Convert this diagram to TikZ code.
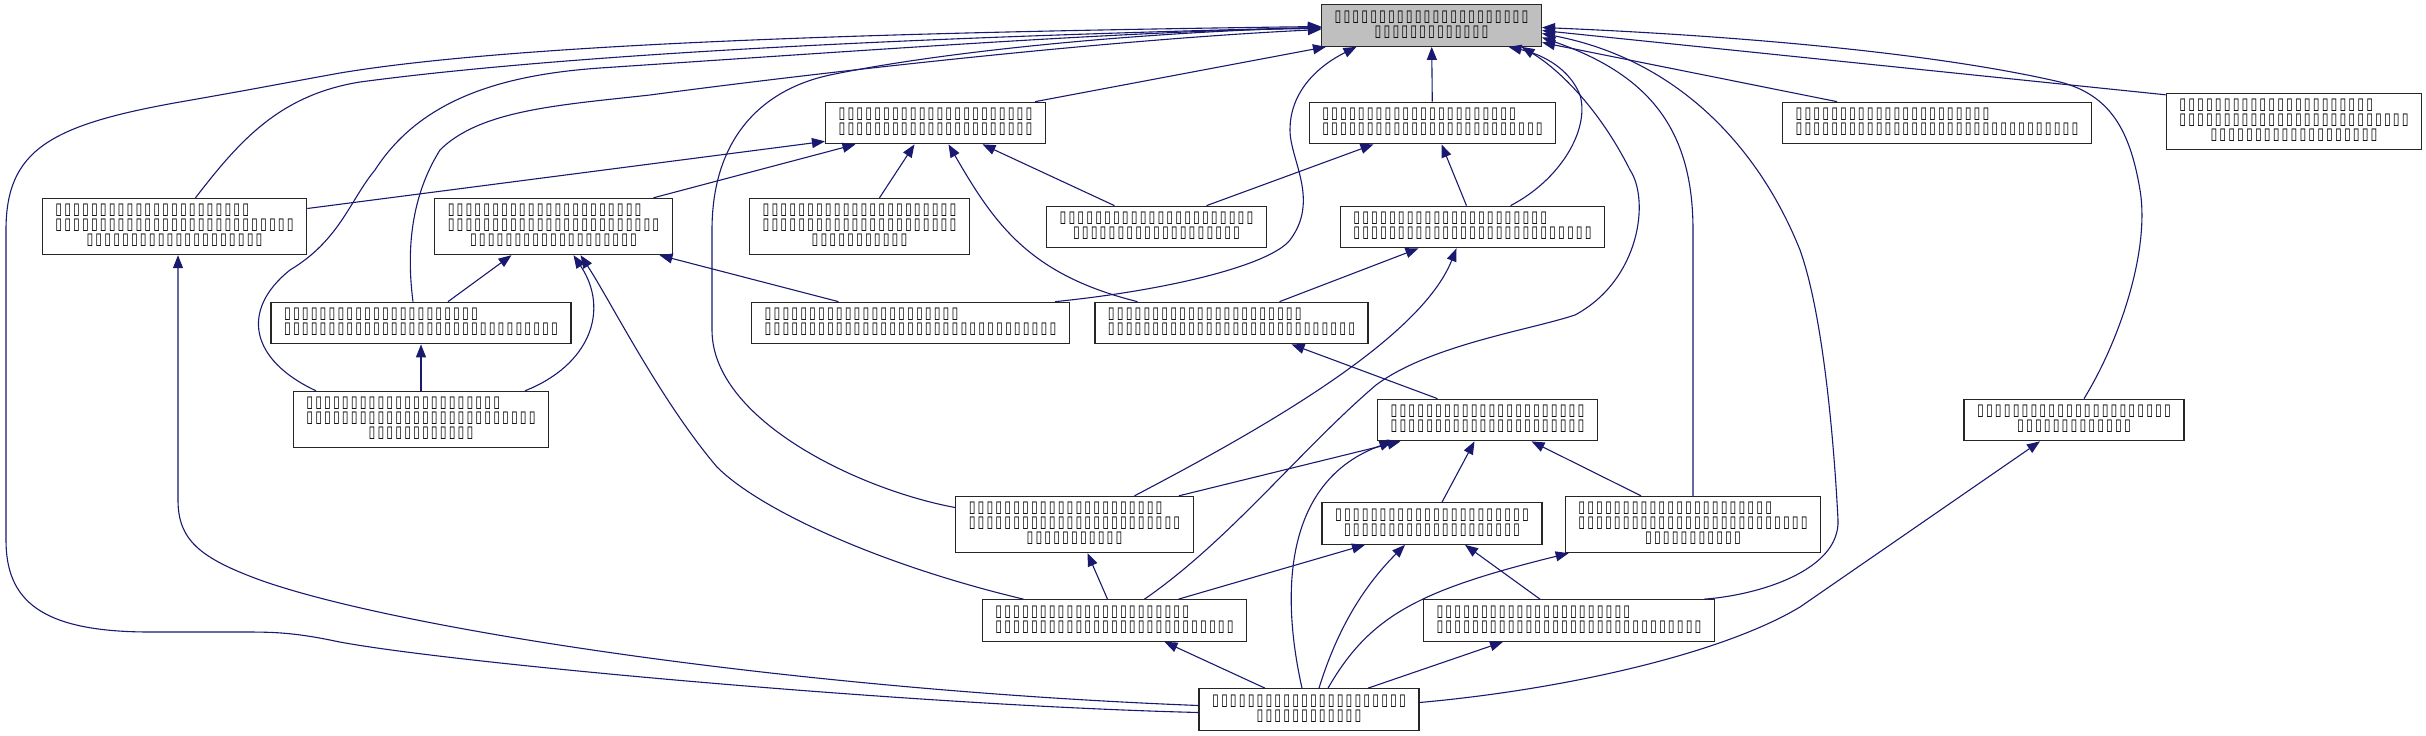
\documentclass[tikz,border=0pt]{standalone}
\usepackage{fontspec}
\usepackage{graphicx}
\setmainfont{DejaVu Sans}
\usetikzlibrary{arrows.meta}
\definecolor{midnightblue}{HTML}{191970}

\newcount\tofucount
\newcommand\tofu[1]{\tofucount=#1\relax
  \loop\ifnum\tofucount>0 \makebox[8.9pt]{\resizebox{6.8pt}{10.5pt}{▯}}\advance\tofucount by -1 \repeat}
\newcommand\two[2]{\begin{tabular}{@{}l@{}}\tofu{#1}\\\multicolumn{1}{@{}c@{}}{\tofu{#2}}\end{tabular}}
\newcommand\three[3]{\begin{tabular}{@{}l@{}}\tofu{#1}\\\tofu{#2}\\\multicolumn{1}{@{}c@{}}{\tofu{#3}}\end{tabular}}

\begin{document}
\begin{tikzpicture}[x=1pt, y=-1pt,
  file/.style={draw=black!85, line width=1.3pt, fill=white, inner xsep=12pt, inner ysep=6pt,
    font=\fontsize{12}{14}\selectfont},
  dep/.style={draw=midnightblue, line width=1.1pt, -{Triangle[length=13pt,width=10pt]}}]
  \useasboundingbox (0,0) rectangle (2426,736);

  \node[file, fill=black!25] (A) at (1431.5,25.5) {\two{22}{13}};
  \node[file] (B) at (935.5,123) {\two{22}{22}};
  \node[file] (C) at (1432.5,123) {\two{22}{25}};
  \node[file] (D) at (1937,123) {\two{22}{32}};
  \node[file] (E) at (2294,121.5) {\three{22}{26}{19}};
  \node[file] (F) at (174.5,226.5) {\three{22}{27}{20}};
  \node[file] (G) at (553.5,226.5) {\three{22}{24}{19}};
  \node[file] (H) at (859.5,226.5) {\three{22}{22}{11}};
  \node[file] (I) at (1156.5,227) {\two{22}{19}};
  \node[file] (J) at (1472.5,227) {\two{22}{27}};
  \node[file] (K) at (421,323) {\two{22}{31}};
  \node[file] (L) at (910.5,323) {\two{22}{33}};
  \node[file] (M) at (1231.5,323) {\two{22}{28}};
  \node[file] (N) at (421,419.5) {\three{22}{26}{12}};
  \node[file] (O) at (1487.5,420) {\two{22}{22}};
  \node[file] (P) at (2074,420) {\two{22}{13}};
  \node[file] (Q) at (1074.5,524.5) {\three{22}{24}{11}};
  \node[file] (R) at (1432,523.5) {\two{22}{20}};
  \node[file] (S) at (1693,524.5) {\three{22}{26}{11}};
  \node[file] (T) at (1114.5,620.5) {\two{22}{27}};
  \node[file] (U) at (1569,620.5) {\two{22}{30}};
  \node[file] (V) at (1309,709.5) {\two{22}{12}};

  % into A
  \draw[dep] ([yshift=-3pt]V.west) .. controls (900,705) and (420,660) .. (330,640)
    .. controls (290,632) and (270,632) .. (240,632) -- (150,632)
    .. controls (40,632) and (6,600) .. (6,540) -- (6,230)
    .. controls (6,150) and (50,125) .. (180,102) .. controls (260,88) and (290,82) .. (340,73)
    .. controls (520,43) and (900,32) .. ([yshift=-1pt]A.west);
  \draw[dep] ([xshift=21pt]F.north) .. controls (240,140) and (280,95) .. (360,82)
    .. controls (600,50) and (1000,35) .. ([yshift=-2pt]A.west);
  \draw[dep] ([xshift=-105pt]N.north) .. controls (250,360) and (240,310) .. (290,270)
    .. controls (340,240) and (350,200) .. (375,170) .. controls (420,100) and (500,75) .. (600,68)
    .. controls (900,48) and (1150,30) .. ([yshift=-3pt]A.west);
  \draw[dep] ([xshift=-8pt]K.north) .. controls (405,240) and (415,190) .. (440,150)
    .. controls (480,110) and (560,105) .. (650,95) .. controls (800,75) and (1100,40) .. ([yshift=-4pt]A.west);
  \draw[dep] ([yshift=17pt]Q.west) .. controls (860,490) and (712,420) .. (712,330) -- (712,230)
    .. controls (712,140) and (760,90) .. (830,75) .. controls (950,50) and (1150,32) .. ([yshift=-2pt]A.west);
  \draw[dep] ([xshift=-11pt]B.north east) -- ([xshift=5pt]A.south west);
  \draw[dep] ([xshift=-15pt]L.north east) .. controls (1170,290) and (1270,265) .. (1290,240)
    .. controls (1320,200) and (1290,160) .. (1290,130) .. controls (1290,90) and (1320,65) .. ([xshift=-75pt]A.south);
  \draw[dep] (C) -- (A);
  \draw[dep] ([xshift=38pt]J.north) .. controls (1560,180) and (1590,130) .. (1580,95)
    .. controls (1570,70) and (1545,55) .. ([xshift=77pt]A.south);
  \draw[dep] ([xshift=30pt]T.north) .. controls (1230,540) and (1300,450) .. (1376,385)
    .. controls (1430,345) and (1530,330) .. (1575,315) .. controls (1640,280) and (1650,200) .. (1630,170)
    .. controls (1600,110) and (1560,70) .. ([xshift=90pt]A.south);
  \draw[dep] (S.north) -- (1693,230) .. controls (1693,130) and (1650,75) .. ([yshift=-12pt]A.east);
  \draw[dep] ([xshift=-11pt]U.north east) .. controls (1760,595) and (1840,570) .. (1838,520)
    .. controls (1835,460) and (1825,320) .. (1800,250) .. controls (1760,150) and (1680,60) .. ([yshift=-8pt]A.east);
  \draw[dep] ([xshift=-100pt]D.north) -- ([yshift=-17pt]A.east);
  \draw[dep] ([yshift=-2pt]E.north west) -- ([yshift=-5pt]A.east);
  \draw[dep] ([xshift=10pt]P.north) .. controls (2120,340) and (2150,250) .. (2140,190)
    .. controls (2130,130) and (2110,95) .. (2060,82) .. controls (1900,45) and (1650,32) .. ([yshift=-2pt]A.east);

  % into B, C, J
  \draw[dep] ([yshift=18pt]F.east) -- ([yshift=3pt]B.south west);
  \draw[dep] ([xshift=100pt]G.north) -- ([xshift=-80pt]B.south);
  \draw[dep] ([xshift=20pt]H.north) -- ([xshift=-21pt]B.south);
  \draw[dep] ([xshift=-94pt]M.north) .. controls (1030,275) and (995,225) .. ([xshift=13pt]B.south);
  \draw[dep] ([xshift=-42pt]I.north) -- ([xshift=47pt]B.south);
  \draw[dep] ([xshift=50pt]I.north) -- ([xshift=-59pt]C.south);
  \draw[dep] ([xshift=-6pt]J.north) -- ([xshift=9pt]C.south);
  \draw[dep] ([xshift=48pt]M.north) -- ([xshift=-54pt]J.south);
  \draw[dep] ([xshift=60pt]Q.north) .. controls (1260,430) and (1420,340) .. ([xshift=-16pt]J.south);

  % into G, K, F
  \draw[dep] ([xshift=27pt]K.north) -- ([xshift=-42pt]G.south);
  \draw[dep] ([xshift=-72pt]L.north) -- ([xshift=106pt]G.south);
  \draw[dep] ([xshift=104pt]N.north) .. controls (590,365) and (610,310) .. ([xshift=20pt]G.south);
  \draw[dep] ([xshift=-91pt]T.north) .. controls (880,565) and (760,510) .. (717,467)
    .. controls (660,400) and (610,300) .. ([xshift=27pt]G.south);
  \draw[dep] (N) -- (K);
  \draw[dep] ([yshift=4pt]V.west) .. controls (800,690) and (400,630) .. (260,580)
    .. controls (200,558) and (178,540) .. (178,500) -- ([xshift=3.5pt]F.south);

  % into M, O
  \draw[dep] ([xshift=-50pt]O.north) -- ([xshift=60pt]M.south);
  \draw[dep] ([xshift=-15pt]Q.north east) -- ([xshift=-87pt]O.south);
  \draw[dep] ([xshift=-7pt]V.north) .. controls (1280,590) and (1285,480) .. ([xshift=-95pt]O.south);
  \draw[dep] ([xshift=10pt]R.north) -- ([xshift=-13pt]O.south);
  \draw[dep] ([xshift=-52pt]S.north) -- ([xshift=44pt]O.south);

  % into Q, R, S, T, U, P
  \draw[dep] ([xshift=-7pt]T.north) -- ([xshift=13pt]Q.south);
  \draw[dep] ([xshift=64pt]T.north) -- ([xshift=-67pt]R.south);
  \draw[dep] ([xshift=10pt]V.north) .. controls (1340,620) and (1370,580) .. ([xshift=-27pt]R.south);
  \draw[dep] ([xshift=-29pt]U.north) -- ([xshift=33pt]R.south);
  \draw[dep] ([xshift=19pt]V.north) .. controls (1370,615) and (1420,590) .. ([xshift=4pt]S.south west);
  \draw[dep] ([xshift=-44pt]V.north) -- ([xshift=50pt]T.south);
  \draw[dep] ([xshift=59pt]V.north) -- ([xshift=-66pt]U.south);
  \draw[dep] ([yshift=7pt]V.east) .. controls (1560,690) and (1720,655) .. (1800,607) -- ([xshift=-34pt]P.south);
\end{tikzpicture}
\end{document}
